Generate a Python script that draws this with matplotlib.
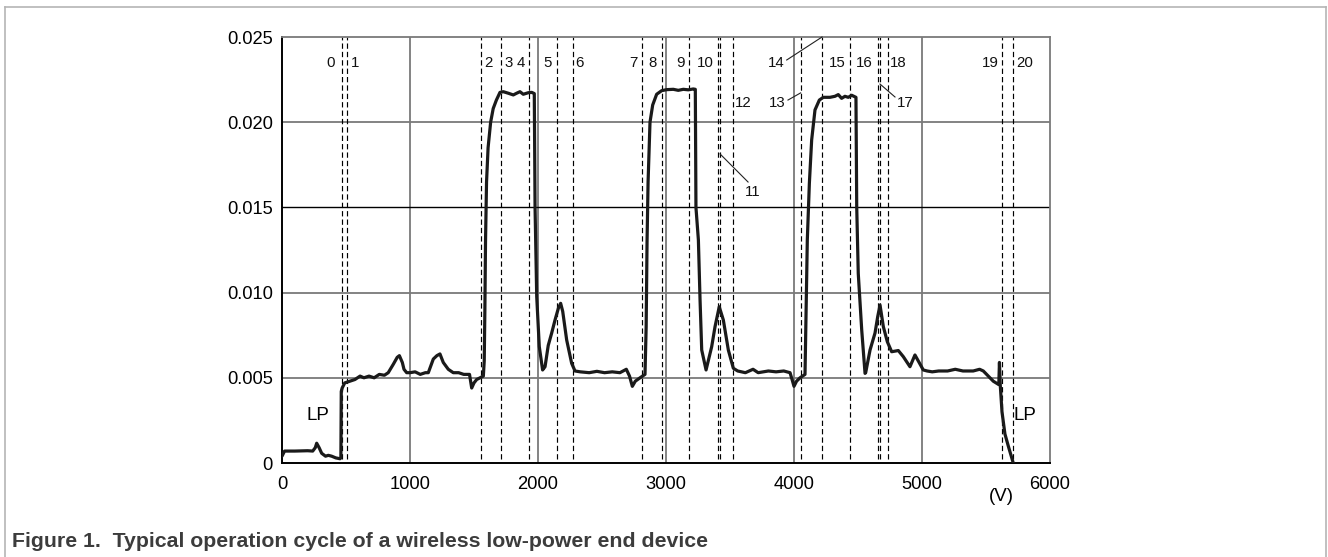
import matplotlib
matplotlib.use("Agg")
import matplotlib.pyplot as plt
from matplotlib.lines import Line2D

plt.rcParams['font.family'] = ['Liberation Sans', 'DejaVu Sans']

# ---- data ----
x_ticks = [0, 1000, 2000, 3000, 4000, 5000, 6000]
y_ticks = [0, 0.005, 0.010, 0.015, 0.020, 0.025]
y_tick_labels = ["0", "0.005", "0.010", "0.015", "0.020", "0.025"]

curve_x = [0, 20, 100, 200, 240, 260, 271, 290, 310, 340, 362, 388, 420, 453, 460,
           463, 470, 490, 531, 570, 610, 640, 680, 720, 760, 800, 830, 870, 900, 917,
           940, 953, 974, 1000, 1040, 1080, 1120, 1143, 1182, 1210, 1234, 1260, 1299,
           1338, 1380, 1420, 1465, 1482, 1500, 1521, 1573, 1580, 1585, 1590, 1598, 1610,
           1630, 1650, 1675, 1703, 1729, 1768, 1807, 1833, 1859, 1885, 1924, 1951, 1971,
           1977, 1990, 2010, 2036, 2055, 2080, 2107, 2133, 2159, 2177, 2193, 2224, 2263,
           2289, 2330, 2400, 2460, 2520, 2580, 2640, 2690, 2715, 2737, 2760, 2797, 2836,
           2845, 2852, 2860, 2875, 2896, 2927, 2966, 3005, 3057, 3096, 3135, 3174, 3213,
           3229, 3234, 3253, 3266, 3279, 3313, 3357, 3383, 3416, 3448, 3487, 3526, 3560,
           3620, 3680, 3720, 3800, 3860, 3920, 3969, 3985, 4000, 4020, 4047, 4086, 4094,
           4104, 4120, 4138, 4164, 4198, 4229, 4281, 4320, 4346, 4372, 4398, 4424, 4451,
           4484, 4490, 4502, 4529, 4555, 4560, 4594, 4633, 4654, 4672, 4698, 4729, 4763,
           4815, 4854, 4906, 4945, 5010, 5040, 5080, 5130, 5200, 5260, 5320, 5400, 5450,
           5479, 5505, 5557, 5600, 5605, 5612, 5625, 5648, 5674, 5713]
curve_y = [0.0004, 0.0007, 0.0007, 0.00072, 0.0007, 0.0009, 0.00116, 0.0009, 0.00057,
           0.0004, 0.00045, 0.0004, 0.0003, 0.00025, 0.0003,
           0.0042, 0.0044, 0.0047, 0.0048, 0.0049, 0.0051, 0.0050, 0.0051, 0.0050,
           0.0052, 0.00515, 0.0053, 0.0058, 0.0062, 0.0063,
           0.0059, 0.0055, 0.0053, 0.0053, 0.00535, 0.0052, 0.0053, 0.0053, 0.0061,
           0.0063, 0.0064, 0.0059, 0.0055,
           0.0053, 0.0053, 0.0052, 0.0052, 0.0044, 0.0047, 0.0049, 0.0051, 0.0060,
           0.0090, 0.0130, 0.0165, 0.0185,
           0.0200, 0.0208, 0.0213, 0.02175, 0.02179, 0.0217, 0.0216, 0.0217, 0.02179,
           0.02164, 0.02173, 0.02175, 0.02168,
           0.0150, 0.00976, 0.00683, 0.00546, 0.00565, 0.0069, 0.00763, 0.00839,
           0.00908, 0.00937, 0.0089, 0.00722, 0.00585,
           0.0054, 0.00535, 0.0053, 0.00538, 0.0053, 0.00535, 0.0053, 0.0055, 0.0051,
           0.0045, 0.0048, 0.0050, 0.0052,
           0.0080, 0.0130, 0.0165, 0.0200, 0.02101, 0.02164, 0.02185, 0.02191, 0.02193,
           0.02187, 0.02193, 0.0219, 0.02195,
           0.02193, 0.0150, 0.01309, 0.00957, 0.00663, 0.00546, 0.00683, 0.0080,
           0.00917, 0.00839, 0.00663, 0.00556, 0.0054,
           0.0053, 0.0055, 0.0053, 0.0054, 0.00535, 0.0054, 0.0053, 0.0049, 0.0045,
           0.0048, 0.0050, 0.0052, 0.00859,
           0.01309, 0.01641, 0.01896, 0.02072, 0.0213, 0.02146, 0.02146, 0.02152,
           0.02162, 0.0214, 0.02152, 0.02146, 0.02158,
           0.02146, 0.01504, 0.01113, 0.00781, 0.00526, 0.0053, 0.00663, 0.00763,
           0.00859, 0.00927, 0.0080, 0.00712, 0.00653,
           0.0066, 0.00624, 0.00565, 0.00634, 0.00546, 0.0054, 0.00535, 0.0054, 0.0054,
           0.0055, 0.0054, 0.0054, 0.0055,
           0.0054, 0.0052, 0.0048, 0.0046, 0.0059, 0.0045, 0.0030, 0.0017, 0.0010, 0.0]

marker_x = [466, 505, 1552, 1708, 1927, 2146, 2276, 2810, 2969, 3180, 3404, 3422, 3526,
            4055, 4221, 4437, 4654, 4672, 4732, 5622, 5713]
marker_labels = [str(i) for i in range(21)]

# label layout (data coordinates): text, x, y
label_pos = {
    "0": (383, 0.02348), "1": (570, 0.02348), "2": (1615, 0.02348),
    "3": (1771, 0.02348), "4": (1867, 0.02348), "5": (2078, 0.02348),
    "6": (2320, 0.02348), "7": (2742, 0.02348), "8": (2898, 0.02348),
    "9": (3115, 0.02348), "10": (3305, 0.02348), "11": (3680, 0.0159),
    "12": (3602, 0.0211), "13": (3865, 0.0211), "14": (3865, 0.02348),
    "15": (4341, 0.02348), "16": (4547, 0.02348), "17": (4867, 0.0211),
    "18": (4812, 0.02348), "19": (5531, 0.02348), "20": (5805, 0.02348),
}
leaders = [((3943, 0.02365), (4219, 0.025)),
           ((3953, 0.0213), (4052, 0.02172)),
           ((4672, 0.02224), (4789, 0.02148)),
           ((3422, 0.01814), (3641, 0.01649))]

# ---- figure ----
W, H = 1328, 557
fig = plt.figure(figsize=(W / 100, H / 100), dpi=100)
ax = fig.add_axes([282 / W, 1 - 463 / H, (1050 - 282) / W, (463 - 37) / H])
ax.set_xlim(0, 6000)
ax.set_ylim(0, 0.025)

grid_gray = '#7a7a7a'
for xv in x_ticks[1:-1]:
    ax.axvline(xv, color=grid_gray, lw=1.3, zorder=1)
for yv in y_ticks[1:-1]:
    c = 'black' if abs(yv - 0.015) < 1e-9 else grid_gray
    ax.axhline(yv, color=c, lw=1.0 if c == 'black' else 1.3, zorder=1)

for xv in marker_x:
    ax.axvline(xv, ymin=0.01, ymax=1.0, color='black', lw=0.85,
               linestyle=(0, (4.5, 2.6)), zorder=2)

ax.plot(curve_x, curve_y, color='#1a1a1a', lw=2.3, zorder=3,
        solid_joinstyle='round', solid_capstyle='round')

for t in marker_labels:
    xx, yy = label_pos[t]
    ax.text(xx, yy, t, ha='center', va='center', fontsize=10.8, color='#111111')

for (p0, p1) in leaders:
    ax.plot([p0[0], p1[0]], [p0[1], p1[1]], color='#222222', lw=0.8, zorder=4,
            clip_on=False)

ax.text(280, 0.00277, "LP", ha='center', va='center', fontsize=13.5)
ax.text(5806, 0.0028, "LP", ha='center', va='center', fontsize=13.5)
ax.text(5623, -0.00198, "(V)", ha='center', va='center', fontsize=13.5,
        clip_on=False)

ax.set_xticks(x_ticks)
ax.set_xticklabels([str(v) for v in x_ticks])
ax.set_yticks(y_ticks)
ax.set_yticklabels(y_tick_labels)
ax.tick_params(axis='both', length=0, labelsize=13.2)
ax.tick_params(axis='x', pad=9.5)
ax.tick_params(axis='y', pad=6.5)

for s in ['left', 'bottom']:
    ax.spines[s].set_color('black')
    ax.spines[s].set_linewidth(1.4)
for s in ['top', 'right']:
    ax.spines[s].set_color(grid_gray)
    ax.spines[s].set_linewidth(1.3)

# figure frame
frame_c = '#b5b5b5'
fig.add_artist(Line2D([4.5 / W, 4.5 / W], [0, 1 - 7 / H], transform=fig.transFigure,
                      color=frame_c, lw=1.2))
fig.add_artist(Line2D([4.5 / W, 1326 / W], [1 - 7 / H, 1 - 7 / H],
                      transform=fig.transFigure, color=frame_c, lw=1.2))
fig.add_artist(Line2D([1326 / W, 1326 / W], [0, 1 - 7 / H], transform=fig.transFigure,
                      color=frame_c, lw=1.2))

fig.text(12 / W, 1 - 541.5 / H,
         "Figure 1.  Typical operation cycle of a wireless low-power end device",
         ha='left', va='center', fontsize=15.3, fontweight='bold', color='#3c3c3c')

fig.savefig("out.png", dpi=100)
